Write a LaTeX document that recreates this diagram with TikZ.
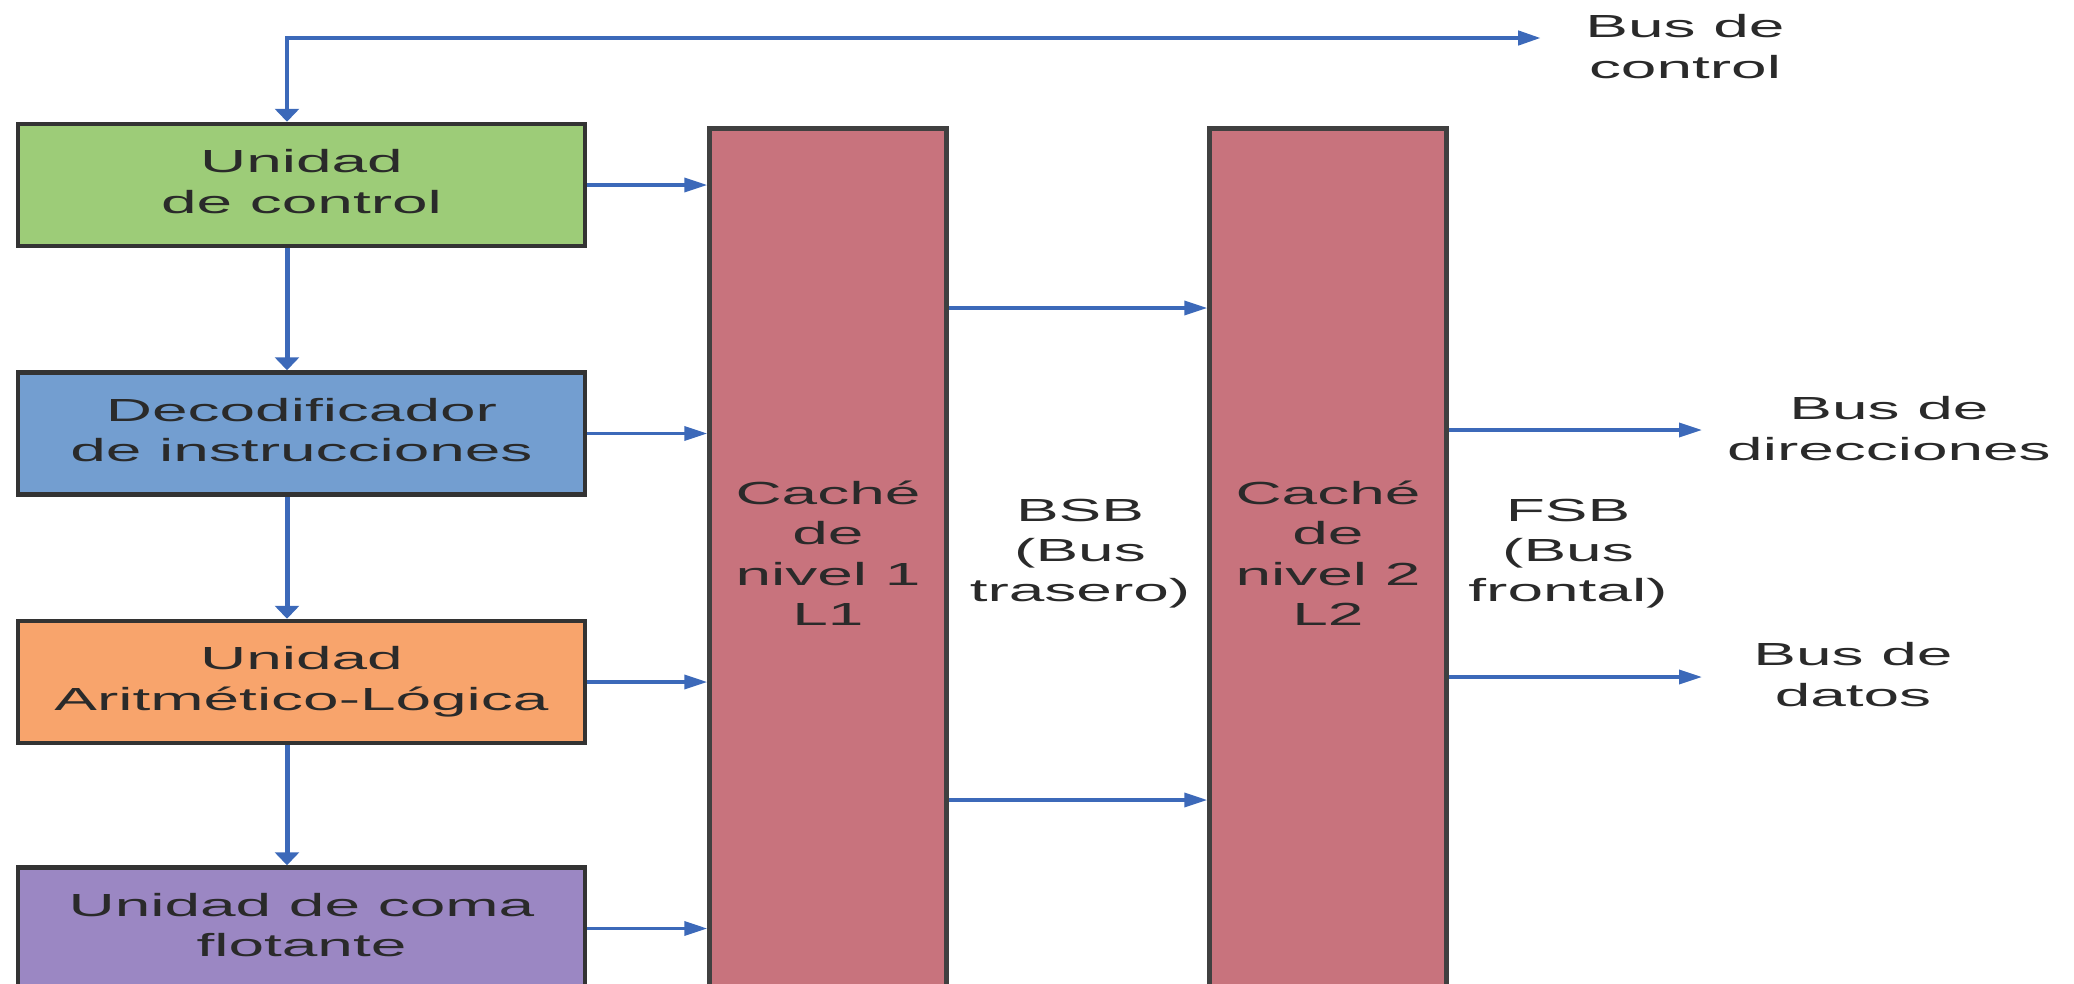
\documentclass[tikz,border=0pt]{standalone}
\usepackage{fontspec}
\setmainfont{Liberation Sans}
\usepackage{graphicx}
\usetikzlibrary{positioning, arrows.meta}
\definecolor{cgreen}{HTML}{9DCC78}
\definecolor{cblue}{HTML}{739ED0}
\definecolor{corange}{HTML}{F8A46C}
\definecolor{cpurple}{HTML}{9B87C3}
\definecolor{cpink}{HTML}{C8737D}
\definecolor{busblue}{HTML}{3C69B9}
\definecolor{txtgray}{HTML}{2A2A2A}
\newcommand{\wtext}[1]{\scalebox{2}[1]{\begin{tabular}{@{}c@{}}#1\end{tabular}}}

\begin{document}
\begin{tikzpicture}[
  x=1cm, y=1cm,
  every node/.style={font=\fontsize{9.1pt}{11.4pt}\selectfont, text=txtgray},
  unit/.style={draw=black!80, line width=0.45mm, minimum width=5.67cm, minimum height=1.22cm, inner sep=0pt},
  cache/.style={draw=black!75, line width=0.45mm, fill=cpink, minimum width=2.37cm, minimum height=9cm, anchor=north},
  hbus/.style={draw=busblue, line width=0.35mm, -{Triangle[length=2.3mm, width=1.4mm]}},
  vbus/.style={draw=busblue, line width=0.5mm, -{Triangle[length=1.3mm, width=2.4mm]}}
]
\useasboundingbox (0,0) rectangle (20.74,9.83);
\clip (0,0) rectangle (20.74,9.83);

\node[unit, fill=cgreen] (uc) at (3.015,7.98) {\wtext{Unidad\\de control}};
\node[unit, fill=cblue, below=1.22cm of uc] (dec) {\wtext{Decodificador\\de instrucciones}};
\node[unit, fill=corange, below=1.22cm of dec] (alu) {\wtext{Unidad\\Aritmético-Lógica}};
\node[unit, fill=cpurple, below=1.2cm of alu] (fpu) {\wtext{Unidad de coma\\flotante}};

\node[cache] (l1) at (8.28,8.57) {};
\node[cache] (l2) at (13.28,8.57) {};
\node (l1txt) at (8.28,4.26) {\wtext{Caché\\de\\nivel 1\\L1}};
\node (l2txt) at (13.28,4.26) {\wtext{Caché\\de\\nivel 2\\L2}};

\coordinate (vx) at (2.87,9.45);
\coordinate (ctlend) at (15.41,9.45);
\coordinate (bsbhi) at (0,6.75);
\coordinate (bsblo) at (0,1.83);
\coordinate (dirend) at (17.02,5.53);
\coordinate (datend) at (17.02,3.06);

\draw[busblue, line width=0.45mm, {Triangle[length=2.3mm, width=1.4mm]}-{Triangle[length=1.3mm, width=2.4mm]}]
  (ctlend) -- (vx) -- (uc.north -| vx);
\foreach \a/\b in {uc/dec, dec/alu, alu/fpu}
  \draw[vbus] (\a.south -| vx) -- (\b.north -| vx);
\foreach \u in {uc, dec, alu, fpu}
  \draw[hbus] (\u.east) -- (\u.east -| l1.west);
\draw[hbus] (l1.east |- bsbhi) -- (l2.west |- bsbhi);
\draw[hbus] (l1.east |- bsblo) -- (l2.west |- bsblo);
\draw[hbus] (l2.east |- dirend) -- (dirend);
\draw[hbus] (l2.east |- datend) -- (datend);

\node (ctllbl) at (16.85,9.33) {\wtext{Bus de\\control}};
\node (dirlbl) at (18.89,5.51) {\wtext{Bus de\\direcciones}};
\node (datlbl) at (18.53,3.05) {\wtext{Bus de\\datos}};
\node (bsblbl) at (10.80,4.295) {\wtext{BSB\\(Bus\\trasero)}};
\node (fsblbl) at (15.68,4.295) {\wtext{FSB\\(Bus\\frontal)}};
\end{tikzpicture}
\end{document}
